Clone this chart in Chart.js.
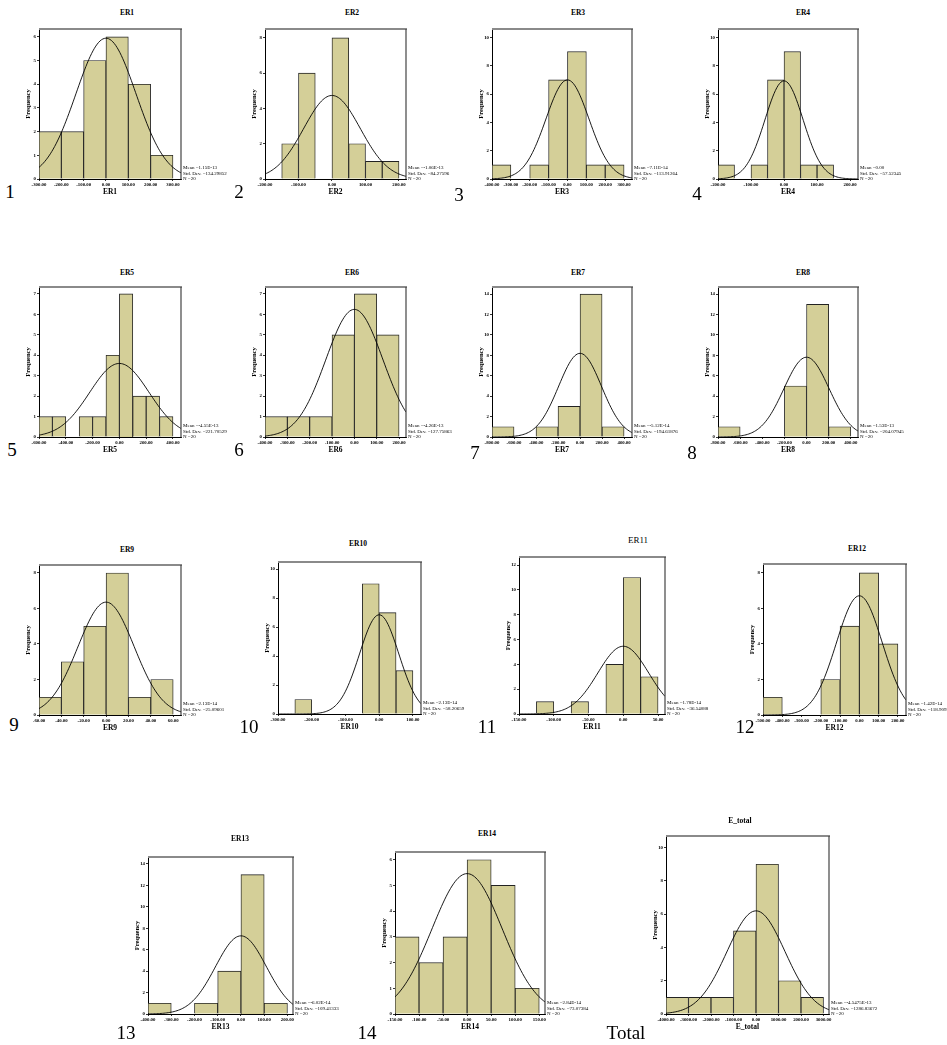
<!DOCTYPE html>
<html>
<head>
<meta charset="utf-8">
<script src="https://cdn.jsdelivr.net/npm/chart.js@4.4.1/dist/chart.umd.min.js"></script>
<style>
  body { margin: 0; background: #fff; width: 947px; height: 1045px; position: relative; overflow: hidden; font-family: 'Liberation Serif', 'DejaVu Serif', serif; color: #000; }
  canvas { position: absolute; }
  .ttl { position: absolute; transform: translate(-50%, -50%); font-weight: bold; font-size: 7.5px; white-space: nowrap; color: #000; }
  .num { position: absolute; transform: translate(-50%, -50%); font-size: 19px; line-height: 1; color: #000; }
</style>
</head>
<body>
<script>
// Histogram data (SPSS residual plots, N = 20 each)
const panelNames = ['ER1', 'ER2', 'ER3', 'ER4', 'ER5', 'ER6', 'ER7', 'ER8', 'ER9', 'ER10', 'ER11', 'ER12', 'ER13', 'ER14', 'E_total'];
const panelNumbers = ['1', '2', '3', '4', '5', '6', '7', '8', '9', '10', '11', '12', '13', '14', 'Total'];
const binStarts = [-300, -150, -400, -200, -600, -400, -800, -800, -60, -250, -125, -500, -400, -150, -4000];
const binWidths = [100, 50, 100, 50, 100, 100, 200, 200, 20, 50, 25, 100, 100, 50, 1000];
const counts = [
    [2, 2, 5, 6, 4, 1],
    [2, 6, 0, 8, 2, 1, 1],
    [1, 0, 1, 7, 9, 1, 1],
    [1, 0, 1, 7, 9, 1, 1],
    [1, 1, 0, 1, 1, 4, 7, 2, 2, 1],
    [1, 1, 1, 5, 7, 5],
    [1, 0, 1, 3, 14, 1],
    [1, 0, 0, 5, 13, 1],
    [1, 3, 5, 8, 1, 2],
    [1, 0, 0, 0, 9, 7, 3],
    [1, 0, 1, 0, 4, 11, 3],
    [1, 0, 0, 2, 5, 8, 4],
    [1, 0, 1, 4, 13, 1],
    [3, 2, 3, 6, 5, 1],
    [1, 1, 1, 5, 9, 2, 1]
];
// summary statistics shown beside each plot
const means = [1.15e-13, -1.06e-13, 7.11e-14, 0, -4.55e-13, -4.26e-13, -5.12e-14, 1.53e-13, 2.13e-14, 2.13e-14, 1.78e-14, 1.42e-14, -6.02e-14, 2.84e-14, -4.5475e-13];
const meanLabels = ['1.15E-13', '-1.06E-13', '7.11E-14', '0.00', '-4.55E-13', '-4.26E-13', '-5.12E-14', '1.53E-13', '2.13E-14', '2.13E-14', '1.78E-14', '1.42E-14', '-6.02E-14', '2.84E-14', '-4.5475E-13'];
const stdDevs = [134.29852, 84.27596, 113.91264, 57.52345, 221.70529, 127.75863, 194.61876, 204.07945, 25.09601, 58.20659, 36.54088, 118.90929, 109.41333, 73.07384, 1286.83672];
const nValues = [20, 20, 20, 20, 20, 20, 20, 20, 20, 20, 20, 20, 20, 20, 20];
// axis ranges and ticks
const xMins = [-300, -200, -400, -200, -600, -400, -800, -800, -60, -300, -150, -500, -400, -150, -4000];
const xMaxs = [336, 221, 342, 224, 460, 231, 472, 465, 67, 124, 60, 242, 224, 162, 3244];
const xSteps = [100, 100, 100, 100, 200, 100, 200, 200, 20, 100, 50, 100, 100, 50, 1000];
const yMaxs = [6.33, 8.5, 10.6, 10.6, 7.34, 7.34, 14.7, 14.7, 8.45, 10.5, 12.65, 8.5, 14.65, 6.3, 10.7];
const ySteps = [1, 2, 2, 2, 1, 1, 2, 2, 2, 2, 2, 2, 2, 1, 2];

// layout: plot boxes [left, top, right, bottom], titles and panel numbers
const boxes = [
    [39, 29, 181, 179], [265, 29, 406, 179], [492, 29, 632, 179], [718, 29, 858, 179],
    [39, 287, 181, 437], [265, 287, 406, 437], [492, 287, 632, 437], [718, 287, 858, 437],
    [39, 565, 181, 715], [278, 562, 421, 714], [519, 557, 665, 714], [763, 564, 906, 715],
    [148, 857, 293, 1014], [395, 852, 545, 1014], [666, 836, 829, 1014]
];
const titlePos = [
    [127, 12], [352, 12], [578, 12], [803, 12],
    [127, 272], [352, 272], [578, 272], [803, 272],
    [127, 549], [358, 543], [638, 540], [857, 548],
    [240, 838], [487, 833], [740, 820]
];
const numberPos = [
    [10, 191], [239, 191], [459, 194], [697, 193],
    [12, 449], [239, 449], [475, 452], [692, 452],
    [14, 724], [249, 726], [487, 726], [745, 726],
    [126, 1032], [367, 1032], [626, 1032]
];

const FONT = "'Liberation Serif', 'DejaVu Serif', serif";
Chart.defaults.font.family = FONT;
Chart.defaults.color = '#000';

const framePlugin = {
    id: 'frame',
    afterDatasetsDraw(chart, args, opts) {
        const { ctx, chartArea: a } = chart;
        ctx.save();
        ctx.strokeStyle = '#8a8a8a';
        ctx.lineWidth = 2;
        ctx.beginPath(); ctx.moveTo(a.left, a.top); ctx.lineTo(a.right + 1, a.top); ctx.stroke();
        ctx.strokeStyle = '#444';
        ctx.lineWidth = 1.2;
        ctx.beginPath(); ctx.moveTo(a.right, a.top); ctx.lineTo(a.right, a.bottom); ctx.stroke();
        ctx.fillStyle = '#000';
        ctx.font = '5px ' + FONT;
        ctx.textBaseline = 'middle';
        opts.lines.forEach((t, i) => ctx.fillText(t, a.right + 2, a.bottom - 11 + i * 5.5));
        ctx.restore();
    }
};

// tick values every `step` from min up to max
function stepTicks(min, step) {
    return scale => {
        const out = [];
        for (let v = min; v <= scale.max + 1e-9; v += step) out.push({ value: v });
        scale.ticks = out;
    };
}

panelNames.forEach((name, p) => {
    const [l, t, r, b] = boxes[p];
    const canvas = document.createElement('canvas');
    const W = 15 + (r - l) + 60, H = 6 + (b - t) + 18;
    canvas.width = W; canvas.height = H;
    canvas.style.left = (l - 15) + 'px';
    canvas.style.top = (t - 6) + 'px';
    document.body.appendChild(canvas);

    const bars = counts[p].map((c, i) => ({ x: binStarts[p] + binWidths[p] * (i + 0.5), y: c }));
    // fitted normal curve from the plot's mean, std. dev. and N
    const peak = nValues[p] * binWidths[p] / (stdDevs[p] * Math.sqrt(2 * Math.PI));
    const curve = [];
    for (let i = 0; i <= 100; i++) {
        const x = xMins[p] + (xMaxs[p] - xMins[p]) * i / 100;
        const z = (x - means[p]) / stdDevs[p];
        curve.push({ x: x, y: peak * Math.exp(-0.5 * z * z) });
    }

    new Chart(canvas, {
        type: 'bar',
        data: {
            datasets: [{
                data: bars,
                backgroundColor: '#d4cf98',
                borderColor: '#222',
                borderWidth: 0.9,
                barPercentage: 1,
                categoryPercentage: 1,
                order: 1
            }, {
                type: 'line',
                data: curve,
                borderColor: '#000',
                borderWidth: 0.9,
                pointRadius: 0,
                fill: false,
                order: 0
            }]
        },
        options: {
            responsive: false,
            animation: false,
            devicePixelRatio: 1,
            layout: { padding: { left: 0, top: 6, right: 60, bottom: 0 } },
            plugins: {
                legend: { display: false },
                tooltip: { enabled: false },
                frame: { lines: ['Mean =' + meanLabels[p], 'Std. Dev. =' + stdDevs[p].toFixed(5), 'N =' + nValues[p]] }
            },
            scales: {
                x: {
                    type: 'linear',
                    min: xMins[p],
                    max: xMaxs[p],
                    offset: false,
                    afterBuildTicks: stepTicks(xMins[p], xSteps[p]),
                    afterFit: s => { s.height = 18; },
                    grid: { offset: false, drawOnChartArea: false, drawTicks: true, tickLength: 2, color: '#000', lineWidth: 0.8 },
                    border: { color: '#000', width: 1 },
                    ticks: {
                        autoSkip: false, maxRotation: 0, minRotation: 0, padding: 1, includeBounds: false,
                        color: '#000',
                        font: { size: 4.8, weight: 'bold' },
                        callback: v => v.toFixed(2)
                    },
                    title: { display: true, text: name, padding: 0, color: '#000', font: { size: 7.5, weight: 'bold' } }
                },
                y: {
                    min: 0,
                    max: yMaxs[p],
                    afterBuildTicks: stepTicks(0, ySteps[p]),
                    afterFit: s => { s.width = 15; },
                    grid: { drawOnChartArea: false, drawTicks: true, tickLength: 2, color: '#000', lineWidth: 0.8 },
                    border: { color: '#000', width: 1 },
                    ticks: { autoSkip: false, padding: 1, includeBounds: false, color: '#000', font: { size: 4.8, weight: 'bold' } },
                    title: { display: true, text: 'Frequency', padding: 0, color: '#000', font: { size: 6.5, weight: 'bold' } }
                }
            }
        },
        plugins: [framePlugin]
    });

    const ttl = document.createElement('div');
    ttl.className = 'ttl';
    ttl.textContent = name;
    ttl.style.left = titlePos[p][0] + 'px';
    ttl.style.top = titlePos[p][1] + 'px';
    if (name === 'ER11') { ttl.style.fontWeight = 'normal'; ttl.style.fontSize = '9px'; }
    document.body.appendChild(ttl);

    const num = document.createElement('div');
    num.className = 'num';
    num.textContent = panelNumbers[p];
    num.style.left = numberPos[p][0] + 'px';
    num.style.top = numberPos[p][1] + 'px';
    document.body.appendChild(num);
});
</script>
</body>
</html>
